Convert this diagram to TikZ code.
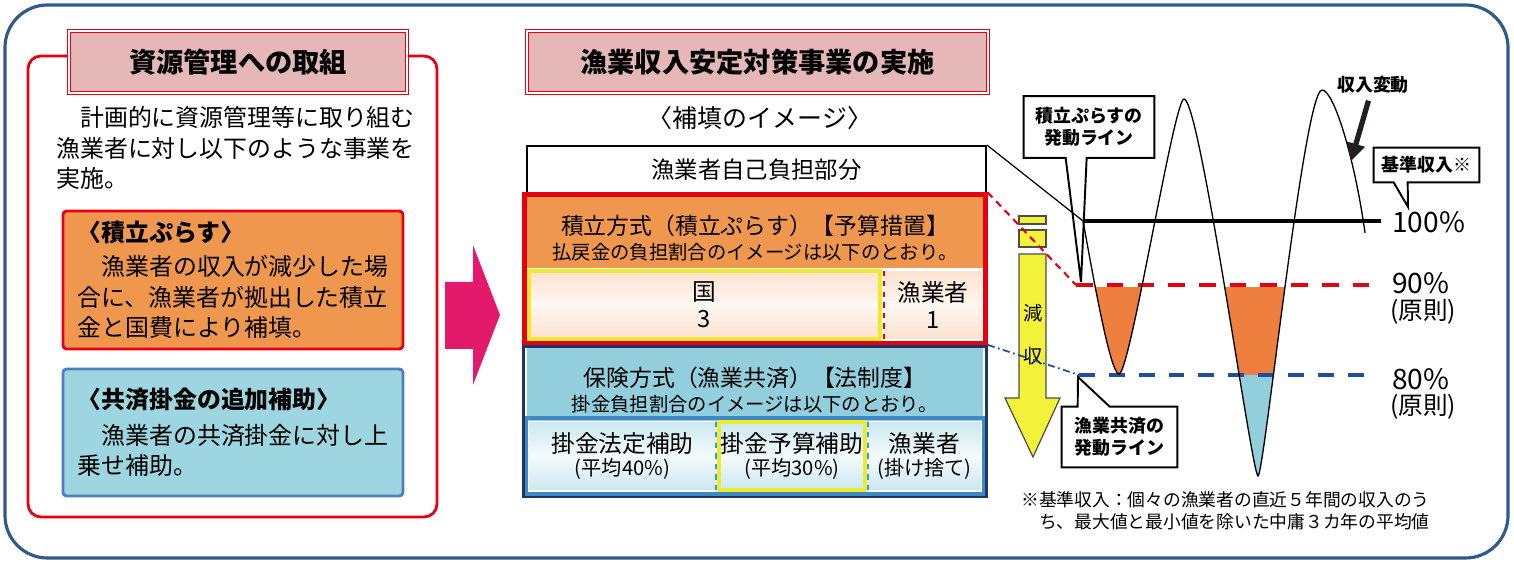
\documentclass[tikz,border=0pt]{standalone}
\usepackage{fontspec}
\setmainfont{Noto Sans CJK JP}
\usepackage{xcolor}
\usepackage{tikz}
\usetikzlibrary{positioning,calc,arrows.meta,fit}

\definecolor{frameBlue}{HTML}{2E5B8C}
\definecolor{ruleRed}{HTML}{E60012}
\definecolor{titlePink}{HTML}{E5B7B7}
\definecolor{plusOrange}{HTML}{F0974F}
\definecolor{kyosaiBlue}{HTML}{9DD5E0}
\definecolor{kyosaiEdge}{HTML}{4F7FBD}
\definecolor{hokenBlue}{HTML}{93CEDD}
\definecolor{navyEdge}{HTML}{1F3563}
\definecolor{peachTint}{HTML}{FBE2D0}
\definecolor{cellTint}{HTML}{CBE8F0}
\definecolor{markYellow}{HTML}{EEEA2C}
\definecolor{arrowPink}{HTML}{E3196B}
\definecolor{dropOrange}{HTML}{EF7F3F}
\definecolor{lineBlue}{HTML}{1E4F9E}
\definecolor{cellEdge}{HTML}{3D88C6}
\definecolor{sepBlue}{HTML}{1FA6E2}
\definecolor{arrowYellow}{HTML}{F3F23A}
\definecolor{inkDark}{HTML}{231F20}

\tikzset{
  outerFrame/.style={draw=frameBlue, line width=1.8pt, rounded corners=0.85cm},
  panelFrame/.style={draw=ruleRed, line width=1.6pt, rounded corners=0.26cm},
  titleBox/.style={
    rectangle,
    draw=ruleRed,
    double=white,
    double distance=1.1pt,
    line width=0.8pt,
    fill=titlePink,
    minimum height=1.24cm,
    inner sep=0pt,
    font=\fontsize{15.5}{18}\selectfont\bfseries
  },
  introText/.style={align=left, inner sep=0pt, font=\fontsize{13.6}{17.3}\selectfont},
  noteBox/.style={
    rectangle,
    rounded corners=2pt,
    line width=1.6pt,
    minimum width=6.8cm,
    align=left,
    inner sep=0pt,
    font=\fontsize{13.6}{17.3}\selectfont
  },
  selfBox/.style={
    rectangle,
    draw=black,
    line width=1.1pt,
    fill=white,
    minimum width=9.18cm,
    minimum height=0.94cm,
    inner sep=0pt,
    font=\fontsize{13.3}{15}\selectfont
  },
  headFill/.style={rectangle, minimum width=9.12cm, inner sep=0pt},
  headText/.style={align=center, inner sep=0pt, font=\fontsize{11}{14}\selectfont},
  shareCell/.style={rectangle, minimum height=1.36cm, inner sep=0pt, align=center},
  plusCell/.style={shareCell, top color=peachTint, bottom color=peachTint,
    middle color=white!70!peachTint, font=\fontsize{13.5}{15.5}\selectfont},
  hokenCell/.style={shareCell, top color=cellTint, bottom color=cellTint,
    middle color=white!80!cellTint, font=\fontsize{11.5}{13.5}\selectfont},
  yellowEdge/.style={draw=markYellow, line width=2pt},
  blockFrame/.style={inner sep=1.2pt},
  pctLabel/.style={inner sep=0pt, font=\fontsize{16}{18}\selectfont},
  ruleLabel/.style={inner sep=0pt, font=\fontsize{14}{16}\selectfont},
  calloutBox/.style={rectangle, inner sep=0pt},
  calloutLine/.style={draw=black, line width=1.1pt, fill=white},
  calloutText/.style={align=center, inner sep=0pt, font=\fontsize{10.2}{12.5}\selectfont\bfseries},
  yellowArrow/.style={draw=inkDark!80, line width=0.7pt, fill=arrowYellow},
  dropText/.style={inner sep=0pt, font=\fontsize{11}{12}\selectfont},
  incomeLine/.style={draw=black, line width=0.75pt},
  trendArrow/.style={draw=inkDark, line width=3pt, -{Triangle[length=10pt,width=10pt]}},
  noteText/.style={align=left, inner sep=0pt, font=\fontsize{10.1}{12.5}\selectfont}
}

\newcommand{\incomeCurve}{(1083,221) .. controls (1092,270) and (1110,374) .. (1119,374)
  .. controls (1130,374) and (1174,99) .. (1184,99)
  .. controls (1200,99) and (1252,476) .. (1258,476)
  .. controls (1264,476) and (1304,90) .. (1322,90)
  .. controls (1334,90) and (1355,160) .. (1365,233)}

\begin{document}
\begin{tikzpicture}[x=0.02cm, y=-0.02cm]
  \useasboundingbox (0,0) rectangle (1514,563);
  \draw[outerFrame] (5,5) rectangle (1508,558);

  % left panel
  \draw[panelFrame] (28,56) rectangle (437,517);
  \node[titleBox, minimum width=6.76cm] (kanriTitle) at (238,62) {資源管理への取組};
  \node[introText, anchor=west] (intro) at (56,148) {　計画的に資源管理等に取り組む\\漁業者に対し以下のような事業を\\実施。};
  \node[noteBox, draw=ruleRed, fill=plusOrange, minimum height=2.76cm] (plusNote) at (233,280)
    {{\bfseries 〈積立ぷらす〉}\\[2pt]　漁業者の収入が減少した場\\合に、漁業者が拠出した積立\\金と国費により補填。};
  \node[noteBox, draw=kyosaiEdge, fill=kyosaiBlue, minimum height=2.54cm] (kyosaiNote) at (233,432.5)
    {{\bfseries 〈共済掛金の追加補助〉}\\[3pt]　漁業者の共済掛金に対し上\\乗せ補助。};

  \fill[arrowPink] (445,282) -- (473,282) -- (473,245) -- (500,315) -- (473,385) -- (473,349) -- (445,349) -- cycle;

  % middle panel
  \node[titleBox, minimum width=9.22cm] (jisshiTitle) at (757.5,62) {漁業収入安定対策事業の実施};
  \node[font=\fontsize{14.2}{16}\selectfont] (hotenImage) at (760,118) {〈補填のイメージ〉};
  \node[selfBox] (jiko) at (756.5,169.5) {漁業者自己負担部分};

  \node[headFill, fill=plusOrange, minimum height=1.42cm] (tsumitate) at (755,232.5) {};
  \node[headText] (tsumiText) at (755,238) {{\fontsize{13}{15}\selectfont 積立方式（積立ぷらす）【予算措置】}\\払戻金の負担割合のイメージは以下のとおり。};
  \node[plusCell, yellowEdge, minimum width=7.02cm] (kuni) at (704.5,305) {国\\3};
  \node[plusCell, minimum width=1.96cm] (gyoPlus) at (933,305) {漁業者\\1};
  \node[fit=(tsumitate)(kuni)(gyoPlus), blockFrame, draw=ruleRed, line width=2.5pt] (plusFrame) {};
  \draw[ruleRed, dashed, line width=1pt] (gyoPlus.north west) -- (gyoPlus.south west);

  \node[headFill, fill=hokenBlue, minimum height=1.46cm] (hoken) at (755,384.5) {};
  \node[headText] (hokenText) at (755,390) {{\fontsize{13}{15}\selectfont 保険方式（漁業共済）【法制度】}\\掛金負担割合のイメージは以下のとおり。};
  \node[hokenCell, minimum width=3.74cm] (houtei) at (622.5,456) {{\fontsize{13.5}{16}\selectfont 掛金法定補助}\\(平均40\%)};
  \node[hokenCell, yellowEdge, minimum width=2.92cm] (yosan) at (792,456) {{\fontsize{13.5}{16}\selectfont 掛金予算補助}\\(平均30\%)};
  \node[hokenCell, minimum width=2.26cm] (gyoHoken) at (924.5,456) {{\fontsize{13.5}{16}\selectfont 漁業者}\\(掛け捨て)};
  \node[fit=(houtei)(yosan)(gyoHoken), blockFrame, draw=cellEdge, line width=2pt] (rowFrame) {};
  \node[fit=(hoken)(rowFrame), inner sep=0.8pt, draw=navyEdge, line width=1.5pt] (hokenFrame) {};
  \draw[sepBlue, dashed, line width=1.2pt] (houtei.north east) -- (houtei.south east);
  \draw[sepBlue, dashed, line width=1.2pt] (gyoHoken.north west) -- (gyoHoken.south west);

  % decrease arrow
  \draw[yellowArrow] (1019,216) rectangle (1046,224);
  \draw[yellowArrow] (1019,230) rectangle (1046,247);
  \draw[yellowArrow] (1019,254) -- (1046,254) -- (1046,398) -- (1060,398) -- (1033,457) -- (1005,398) -- (1019,398) -- cycle;
  \node[dropText] (gen) at (1033,313) {減};
  \node[dropText] (shu) at (1033,356) {収};

  % chart
  \coordinate (base0) at (1083,221);
  \coordinate (base1) at (1381,221);
  \coordinate (line90) at (1076,285);
  \coordinate (line90e) at (1382,285);
  \coordinate (line80) at (1079,375);
  \coordinate (line80e) at (1368,375);

  \begin{scope}
    \clip \incomeCurve -- (1365,0) -- (1083,0) -- cycle;
    \fill[dropOrange] (1070,287) rectangle (1390,375);
    \fill[hokenBlue] (1070,375) rectangle (1390,490);
  \end{scope}

  % callouts
  \node[calloutBox, minimum width=2.6cm, minimum height=1.22cm] (tsumiCall) at (1089,127) {};
  \coordinate (tsumiTip) at (1081,282);
  \draw[calloutLine] (tsumiCall.south west) -- (tsumiCall.north west) -- (tsumiCall.north east) -- (tsumiCall.south east)
    -- ([xshift=1.26cm]tsumiCall.south west) -- (tsumiTip) -- ([xshift=0.84cm]tsumiCall.south west) -- cycle;
  \node[calloutText] (tsumiCallText) at (tsumiCall) {積立ぷらすの\\発動ライン};

  \node[calloutBox, minimum width=2.1cm, minimum height=0.68cm] (kijunCall) at (1426.5,165) {};
  \coordinate (kijunTip) at (1408,207);
  \draw[calloutLine] (kijunCall.south west) -- (kijunCall.north west) -- (kijunCall.north east) -- (kijunCall.south east)
    -- ([xshift=0.68cm]kijunCall.south west) -- (kijunTip) -- ([xshift=0.4cm]kijunCall.south west) -- cycle;
  \node[calloutText] (kijunCallText) at (kijunCall) {基準収入※};

  \node[calloutBox, minimum width=2.3cm, minimum height=1.2cm] (kyosaiCall) at (1119.5,437) {};
  \coordinate (kyosaiTip) at (1078,377);
  \draw[calloutLine] (kyosaiCall.north west) -- ([xshift=0.32cm]kyosaiCall.north west) -- (kyosaiTip)
    -- ([xshift=0.96cm]kyosaiCall.north west) -- (kyosaiCall.north east) -- (kyosaiCall.south east) -- (kyosaiCall.south west) -- cycle;
  \node[calloutText] (kyosaiCallText) at (kyosaiCall) {漁業共済の\\発動ライン};

  % connectors
  \draw[line width=0.7pt] (jiko.north east) -- (base0);
  \draw[ruleRed, line width=1.2pt, dash pattern=on 4pt off 3pt] (plusFrame.north east) -- (line90);
  \draw[lineBlue, line width=1pt, dash pattern=on 4pt off 2pt on 1pt off 2pt] (hokenFrame.north east) -- (line80);

  \draw[lineBlue, line width=2pt, dash pattern=on 9pt off 8pt] (line80) -- (line80e);
  \draw[ruleRed, line width=2.2pt, dash pattern=on 9.5pt off 8pt] (line90) -- (line90e);
  \draw[line width=2pt] (base0) -- (base1);
  \draw[incomeLine] \incomeCurve;

  \node[pctLabel, anchor=west] (p100) at (1392,222) {100\%};
  \node[pctLabel, anchor=west] (p90) at (1392,283) {90\%};
  \node[ruleLabel, anchor=west] (r90) at (1390,312) {(原則)};
  \node[pctLabel, anchor=west] (p80) at (1392,379) {80\%};
  \node[ruleLabel, anchor=west] (r80) at (1390,407) {(原則)};

  \node[calloutText] (henDo) at (1373,85) {収入変動};
  \coordinate (henTip) at (1351,161);
  \draw[trendArrow, shorten <=4pt] (henDo) -- (henTip);

  \node[noteText, anchor=west] (kijunNote) at (1021,511) {※基準収入：個々の漁業者の直近５年間の収入のう\\　ち、最大値と最小値を除いた中庸３カ年の平均値};
\end{tikzpicture}
\end{document}
